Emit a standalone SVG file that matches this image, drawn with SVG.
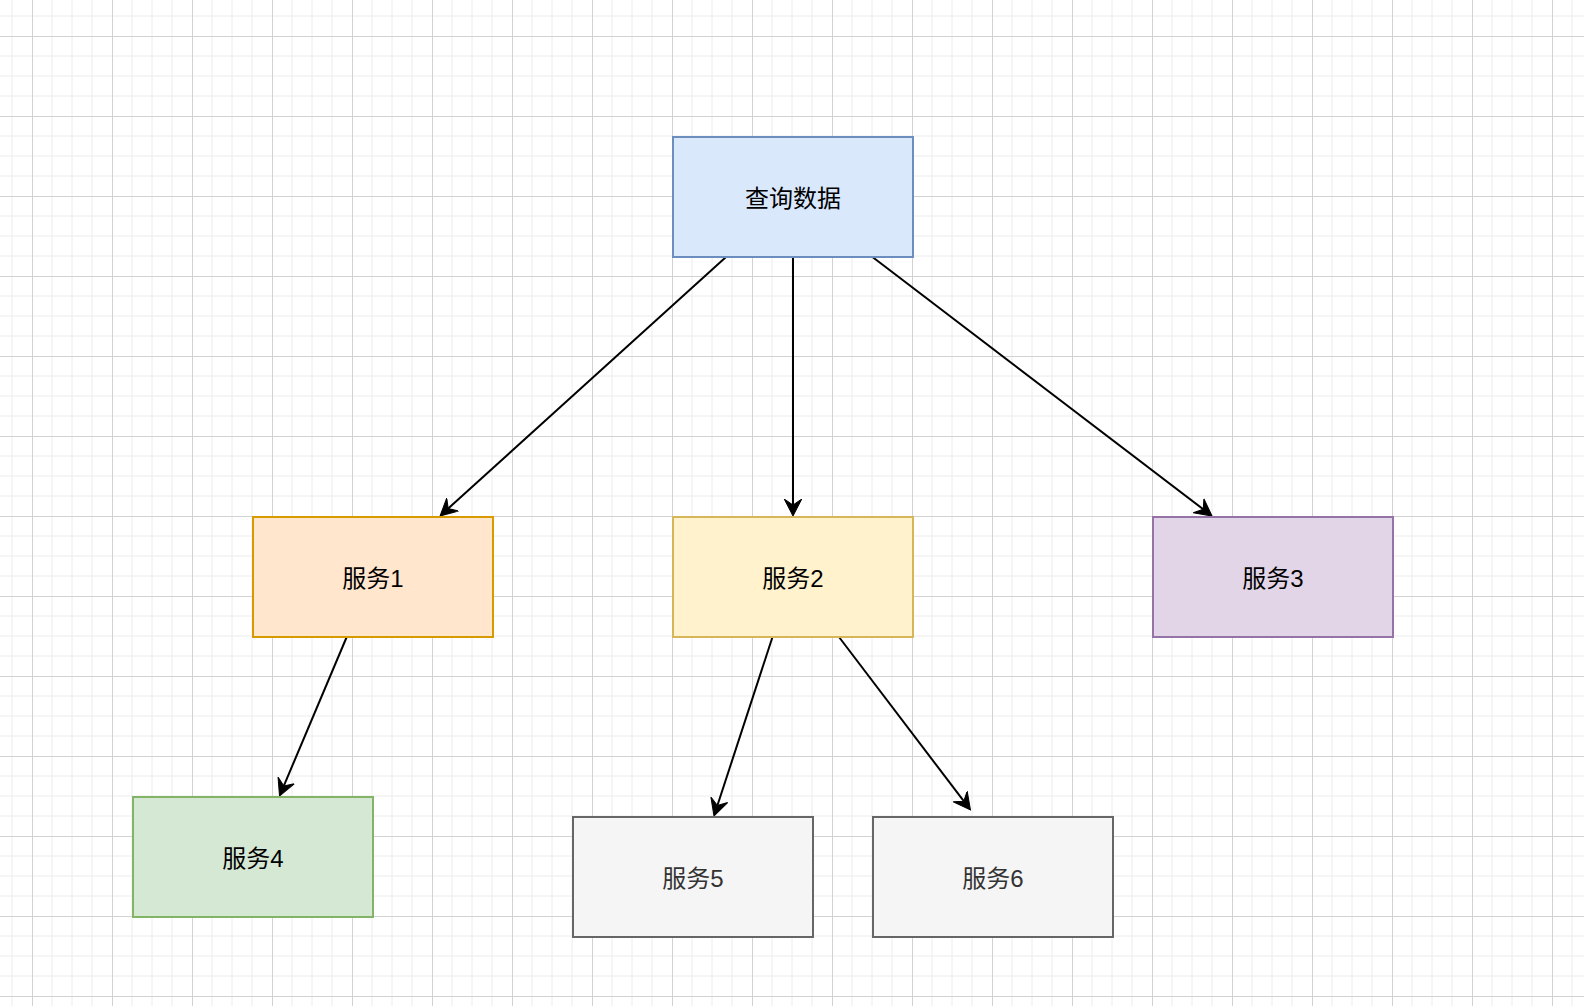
<svg xmlns="http://www.w3.org/2000/svg" width="1584" height="1006" viewBox="0 0 1584 1006">
<style>
.node rect{stroke-width:2}
.node text{font-family:"Liberation Sans","Noto Sans CJK SC",sans-serif;font-size:24px;text-anchor:middle;fill:#000}
.edges path{fill:none;stroke:#000;stroke-width:2;marker-end:url(#arrow)}
</style>
<defs>
<pattern id="grid" patternUnits="userSpaceOnUse" x="0" y="0" width="80" height="80">
<path d="M12 0V80M52 0V80M72 0V80M0 16H80M0 56H80M0 76H80" stroke="#ececec" stroke-width="1" fill="none"/>
<path d="M32.5 0V80M0 36.5H80" stroke="#d2d2d2" stroke-width="1" fill="none"/>
</pattern>
<marker id="arrow" markerUnits="userSpaceOnUse" markerWidth="20" markerHeight="20" viewBox="0 -10 20 20" refX="6" refY="0" orient="auto">
<path d="M0,-8.8 L17,0 L0,8.8 L6,0 Z" fill="#000" stroke="#000" stroke-width="1" stroke-linejoin="miter"/>
</marker>
</defs>
<rect width="1584" height="1006" fill="#fff"/>
<rect width="1584" height="1006" fill="url(#grid)"/>
<g id="edges" class="edges">
<path id="e1" d="M726 257L448.2 508.6"/>
<path id="e2" d="M793 257L793 505"/>
<path id="e3" d="M872.5 257L1203.3 509.3"/>
<path id="e4" d="M346.7 637L283.8 785.9"/>
<path id="e5" d="M772.5 637L717.4 805.5"/>
<path id="e6" d="M839 637L963.8 801.2"/>
</g>
<g id="query" class="node"><rect x="673" y="137" width="240" height="120" fill="#dae8fc" stroke="#6c8ebf"/><text x="793" y="207">查询数据</text></g>
<g id="svc1" class="node"><rect x="253" y="517" width="240" height="120" fill="#ffe6cc" stroke="#d79b00"/><text x="373" y="587">服务1</text></g>
<g id="svc2" class="node"><rect x="673" y="517" width="240" height="120" fill="#fff2cc" stroke="#d6b656"/><text x="793" y="587">服务2</text></g>
<g id="svc3" class="node"><rect x="1153" y="517" width="240" height="120" fill="#e1d5e7" stroke="#9673a6"/><text x="1273" y="587">服务3</text></g>
<g id="svc4" class="node"><rect x="133" y="797" width="240" height="120" fill="#d5e8d4" stroke="#82b366"/><text x="253" y="867">服务4</text></g>
<g id="svc5" class="node"><rect x="573" y="817" width="240" height="120" fill="#f5f5f5" stroke="#666666"/><text x="693" y="887" style="fill:#333333">服务5</text></g>
<g id="svc6" class="node"><rect x="873" y="817" width="240" height="120" fill="#f5f5f5" stroke="#666666"/><text x="993" y="887" style="fill:#333333">服务6</text></g>
</svg>
